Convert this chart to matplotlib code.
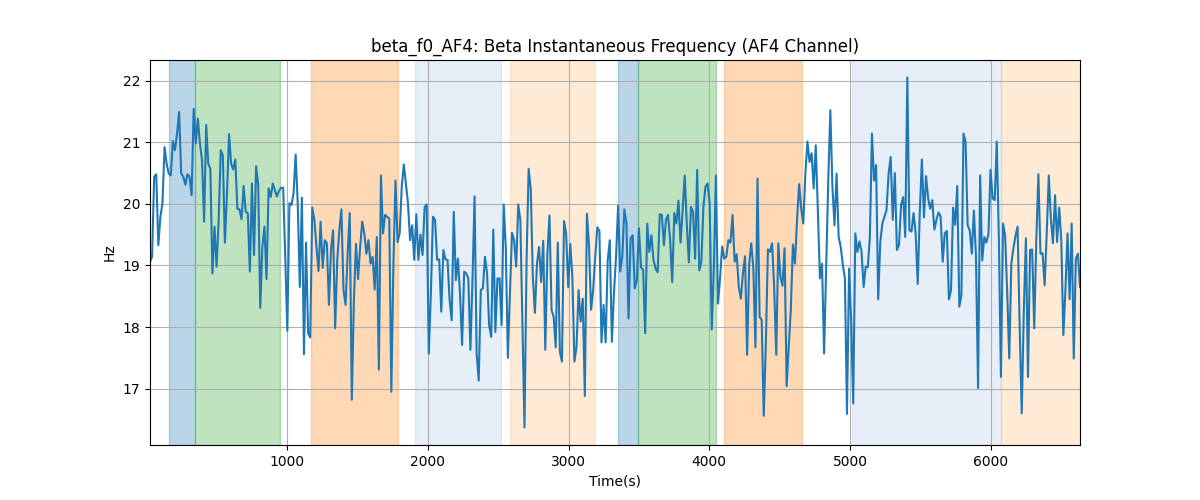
import numpy as np
import matplotlib
matplotlib.use("Agg")
import matplotlib.pyplot as plt

title = "beta_f0_AF4: Beta Instantaneous Frequency (AF4 Channel)"
t_start, t_end = 25, 6635

freq_hz = [
    # segment 1
    19.06, 19.14, 20.44, 20.48, 19.33, 19.79, 20.01, 20.92, 20.65, 20.49,
    20.46, 21.02, 20.87, 21.14, 21.49, 20.49, 20.44, 20.31, 20.48, 20.44,
    20.14, 21.54, 20.98, 21.38, 20.98, 20.71, 19.71, 21.28, 20.65, 20.57,
    18.87, 19.63, 18.98, 19.74, 20.87, 20.79, 19.37, 20.17, 21.13, 20.65,
    20.56, 20.72, 19.92, 19.91, 19.75, 20.29, 19.87, 19.85, 18.90, 20.33,
    19.17, 20.61, 20.31, 18.31, 19.30, 19.63, 18.78, 20.25,
    # segment 2
    20.11, 20.33, 20.22, 20.12, 20.21, 20.26, 20.26, 19.14, 17.94, 20.01,
    19.98, 20.17, 20.80, 20.01, 18.65, 20.10, 17.56, 19.37, 17.90, 17.83,
    19.94, 19.74, 19.30, 18.91, 19.71, 18.96, 19.41, 19.36, 18.36, 19.25,
    19.57, 17.98, 19.09, 19.57, 19.91, 18.60, 18.36, 19.19, 19.85, 16.82,
    18.44, 19.35, 18.78, 19.30, 19.71, 19.52, 19.19, 19.41, 19.03, 19.14,
    18.61, 19.46, 17.31, 20.46, 19.52,
    # segment 3
    19.82, 19.79, 19.76, 16.95, 19.03, 20.38, 19.38, 19.52, 20.28, 20.64,
    20.33, 20.01, 19.41, 19.65, 19.09, 19.83, 19.09, 19.50, 19.17, 19.95,
    19.99, 17.57, 18.55, 19.79, 19.74, 19.09, 19.10, 18.25, 19.25, 19.10,
    19.09, 18.44, 18.11, 19.87, 18.76, 19.11, 18.55, 17.71, 18.90, 18.87,
    18.79, 17.63, 18.76, 20.12, 17.57, 17.13, 18.60, 18.63, 19.14, 18.87,
    18.03, 17.84, 19.58, 17.92, 18.79, 18.79,
    # segment 4
    18.03, 19.99, 19.30, 17.50, 18.55, 19.53, 19.41, 18.98, 19.99, 19.74,
    18.01, 16.37, 19.09, 20.57, 20.25, 18.82, 18.23, 19.03, 19.30, 18.73,
    19.40, 17.63, 19.19, 19.81, 18.28, 18.17, 17.67, 19.37, 17.60, 17.44,
    19.72, 19.52, 18.65, 19.35, 18.82, 17.44, 17.68, 18.60, 18.09, 18.46,
    16.88, 19.84, 19.33, 18.28, 18.60, 19.14, 19.62, 19.56, 17.75, 18.36,
    17.75, 19.09, 19.41, 17.76, 18.55,
    # segment 5
    19.14, 19.97, 18.90, 19.14, 19.91, 19.68, 18.14, 19.44, 19.49, 18.63,
    18.76, 19.60, 18.97, 18.93, 17.90, 19.68, 19.22, 19.49, 19.09, 18.95,
    18.89, 19.83, 19.82, 19.33, 19.74, 19.82, 19.41, 18.73, 19.85, 19.68,
    20.05, 19.37, 19.89, 20.46, 19.68, 19.05, 19.95, 19.87, 19.11, 20.55,
    18.92, 19.06, 19.95, 20.28, 20.33, 20.01, 17.96, 18.95, 20.46, 18.38,
    18.79, 19.31, 19.11, 19.14, 19.41,
    # segment 6
    19.37, 19.82, 19.06, 19.18, 18.65, 18.46, 18.87, 19.15, 17.55, 19.03,
    19.36, 18.95, 17.67, 20.41, 18.16, 18.12, 16.56, 17.73, 19.26, 19.22,
    19.36, 18.65, 17.55, 19.36, 18.82, 18.67, 19.28, 17.04, 17.68, 18.28,
    19.34, 19.03, 19.74, 20.32, 19.92, 19.68, 20.49, 21.01, 20.68, 20.82,
    20.25, 20.95, 19.90, 18.79, 19.03, 17.57, 18.98, 20.38, 21.52, 20.28,
    19.65, 20.49, 19.46, 19.30, 19.01,
    # segment 7
    18.79, 16.59, 18.95, 18.11, 16.76, 19.52, 19.22, 19.39, 19.22, 18.65,
    18.98, 18.97, 19.46, 21.14, 20.38, 20.63, 18.45, 19.38, 19.68, 19.79,
    19.90, 20.49, 20.76, 19.74, 20.50, 19.25, 19.33, 19.98, 20.11, 19.46,
    22.05, 19.57, 19.55, 19.85, 19.52, 18.70, 19.87, 20.72, 19.78, 20.45,
    20.09, 19.92, 20.06, 19.58, 19.74, 19.86, 19.80, 19.06, 19.52, 19.56,
    18.45, 18.60, 19.94, 19.66, 20.29, 18.33, 18.52, 21.14,
    # segment 8
    21.01, 19.65, 19.57, 19.19, 19.89, 19.14, 17.01, 20.46, 19.08, 19.46,
    19.37, 19.51, 20.55, 20.09, 20.06, 21.01, 19.44, 17.19, 19.68, 19.49,
    18.57, 17.49, 19.03, 19.28, 19.48, 19.63, 18.01, 16.60, 18.28, 19.44,
    17.19, 19.25, 19.26, 17.98, 19.41, 20.48, 19.19, 19.20, 18.68, 19.52,
    20.46, 19.76, 19.36, 20.14, 19.38, 19.94, 19.41, 17.87, 18.60, 19.52,
    18.45, 19.68, 17.49, 19.11, 19.19, 18.65,
]

span_starts = [163, 343, 1166, 1905, 2581, 3349, 3494, 4103, 5011, 6075]
span_ends = [343, 950, 1789, 2522, 3191, 3494, 4051, 4656, 6075, 6660]
span_colors = ["#1f77b4", "#2ca02c", "#ff7f0e", "#aec7e8", "#ffbb78",
               "#1f77b4", "#2ca02c", "#ff7f0e", "#aec7e8", "#ffbb78"]

time_s = np.linspace(t_start, t_end, len(freq_hz))

fig, ax = plt.subplots(figsize=(12, 5), dpi=100)
for s, e, c in zip(span_starts, span_ends, span_colors):
    ax.axvspan(s, e, color=c, alpha=0.3)
ax.plot(time_s, freq_hz, color="tab:blue", linewidth=1.5)
ax.set_xlim(time_s[0], time_s[-1])
ax.set_title(title)
ax.set_xlabel("Time(s)")
ax.set_ylabel("Hz")
ax.grid(True)
fig.savefig("out.png", dpi=100)
